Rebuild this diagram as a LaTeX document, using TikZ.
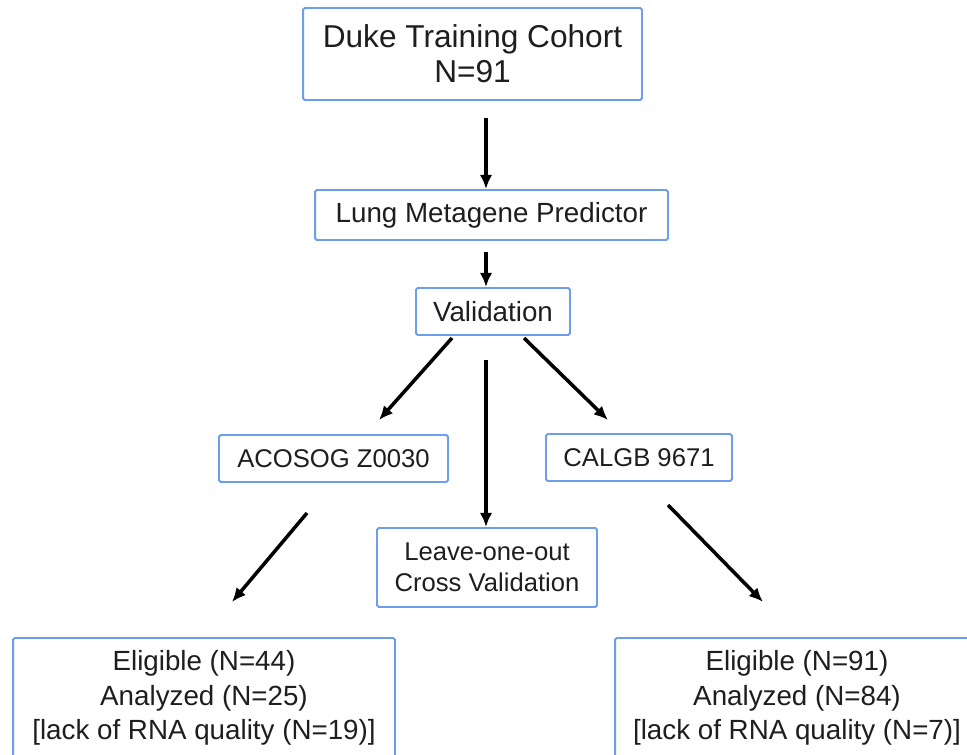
\documentclass[tikz,border=0pt]{standalone}
\usepackage{fontspec}
\setmainfont{Liberation Sans}
\usepackage{tikz}
\usetikzlibrary{arrows.meta, positioning}
\definecolor{boxblue}{RGB}{109,158,235}
\definecolor{inkgray}{RGB}{30,30,30}
\tikzset{
 box/.style = {
    rectangle, draw=boxblue, line width=1.1pt,
    text=inkgray, align=center,
    rounded corners=1pt, inner sep=0pt},
 line/.style = {
    draw, line width=2pt, -{Latex[length=8pt,width=7pt]}},
 big/.style = {font=\fontsize{18}{20}\selectfont},
 mid/.style = {font=\fontsize{15.8}{19.8}\selectfont},
 small/.style = {font=\fontsize{14.6}{17.6}\selectfont},
}

\begin{document}
\begin{tikzpicture}[x=0.02cm, y=-0.02cm]
\fill [white] (0,0) rectangle (967,754);
\useasboundingbox (0,0) rectangle (967,754);

% Place nodes
\node [box, big, minimum width=6.78cm, minimum height=1.84cm] (duke) at (472.5,54) {Duke Training Cohort\\N=91};
\node [box, mid, minimum width=7.06cm, minimum height=1.0cm] (lung) at (491.5,215) {Lung Metagene Predictor};
\node [box, mid, minimum width=3.08cm, minimum height=0.94cm] (val) at (493,311.5) {Validation};
\node [box, small, minimum width=4.58cm, minimum height=0.94cm] (acosog) at (333.5,458.5) {ACOSOG Z0030};
\node [box, small, minimum width=3.72cm, minimum height=0.94cm] (calgb) at (639,457.5) {CALGB 9671};
\node [box, small, minimum width=4.4cm, minimum height=1.58cm] (loocv) at (487,567.5) {Leave-one-out\\Cross Validation};
\node [box, mid, minimum width=7.64cm, minimum height=2.4cm] (acosogN) at (204,698) {Eligible (N=44)\\Analyzed (N=25)\\{[lack of RNA quality (N=19)]}};
\node [box, mid, minimum width=7.28cm, minimum height=2.4cm] (calgbN) at (797,698) {Eligible (N=91)\\Analyzed (N=84)\\{[lack of RNA quality (N=7)]}};

% free ends of the arrows
\coordinate (dukeOut) at (486,118);
\coordinate (lungOut) at (486,252);
\coordinate (valLeft) at (452,338);
\coordinate (valRight) at (524,338);
\coordinate (valMid) at (486,360);
\coordinate (acosogIn) at (379,420);
\coordinate (calgbIn) at (608,420);
\coordinate (acosogOut) at (307,513);
\coordinate (acosogNIn) at (232,602);
\coordinate (calgbOut) at (668,505);
\coordinate (calgbNIn) at (763,602);

\path [line] (dukeOut) -- (lung.north -| dukeOut);
\path [line] (lungOut) -- (val.north -| lungOut);
\path [line] (valLeft) -- (acosogIn);
\path [line] (valRight) -- (calgbIn);
\path [line] (valMid) -- (loocv.north -| valMid);
\path [line] (acosogOut) -- (acosogNIn);
\path [line] (calgbOut) -- (calgbNIn);

\end{tikzpicture}
\end{document}
